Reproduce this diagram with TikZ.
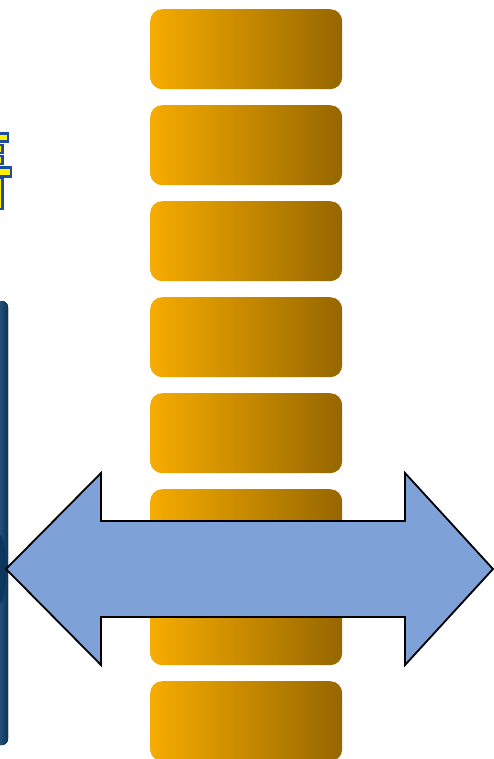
\documentclass[tikz,border=0pt]{standalone}
\usetikzlibrary{positioning}
\definecolor{orleft}{RGB}{246,172,0}
\definecolor{orright}{RGB}{150,102,0}
\definecolor{arrowblue}{RGB}{126,161,216}
\definecolor{navy}{RGB}{8,52,90}
\definecolor{navylight}{RGB}{74,118,160}
\definecolor{glyphblue}{RGB}{28,78,160}
\definecolor{glyphyellow}{RGB}{255,240,0}
\begin{document}
\begin{tikzpicture}[x=1pt,y=-1pt,
    plate/.style={rounded corners=12pt,left color=orleft,right color=orright},
    glyph/.style={draw=glyphblue,line width=2.4pt,fill=glyphyellow}]
    \useasboundingbox (0,0) rectangle (494,759);
    % stack of plates
    \foreach \i in {0,...,7} {
        \node[plate,minimum width=192pt,minimum height=80pt,inner sep=0pt,
              anchor=north west] (P\i) at (150,{9+96*\i}) {};
    }
    % left bar
    \begin{scope}
        \clip (0,0) rectangle (494,759);
        \fill[rounded corners=6pt,left color=navylight,right color=navy] (-12,301) rectangle (8,745);
        \fill[navy,opacity=.8] (0,569) ellipse (6 and 34);
    \end{scope}
    % glyph pieces
    \begin{scope}
        \clip (0,0) rectangle (494,759);
        \draw[glyph] (-4,133.5) rectangle (8,141.5);
        \draw[glyph] (-4,145) rectangle (2.5,153);
        \draw[glyph] (-4,156) rectangle (2.5,164);
        \draw[glyph] (-4,167.5) rectangle (11,176.5);
        \draw[glyph] (-4,178) rectangle (2.5,209);
    \end{scope}
    % double arrow
    \coordinate (L) at (6,569);
    \coordinate (R) at (493,569);
    \draw[line width=1.8pt,fill=arrowblue,line join=miter]
        (L) -- (101,473) -- (101,521) -- (405,521) -- (405,473) -- (R)
        -- (405,665) -- (405,617) -- (101,617) -- (101,665) -- cycle;
\end{tikzpicture}
\end{document}
